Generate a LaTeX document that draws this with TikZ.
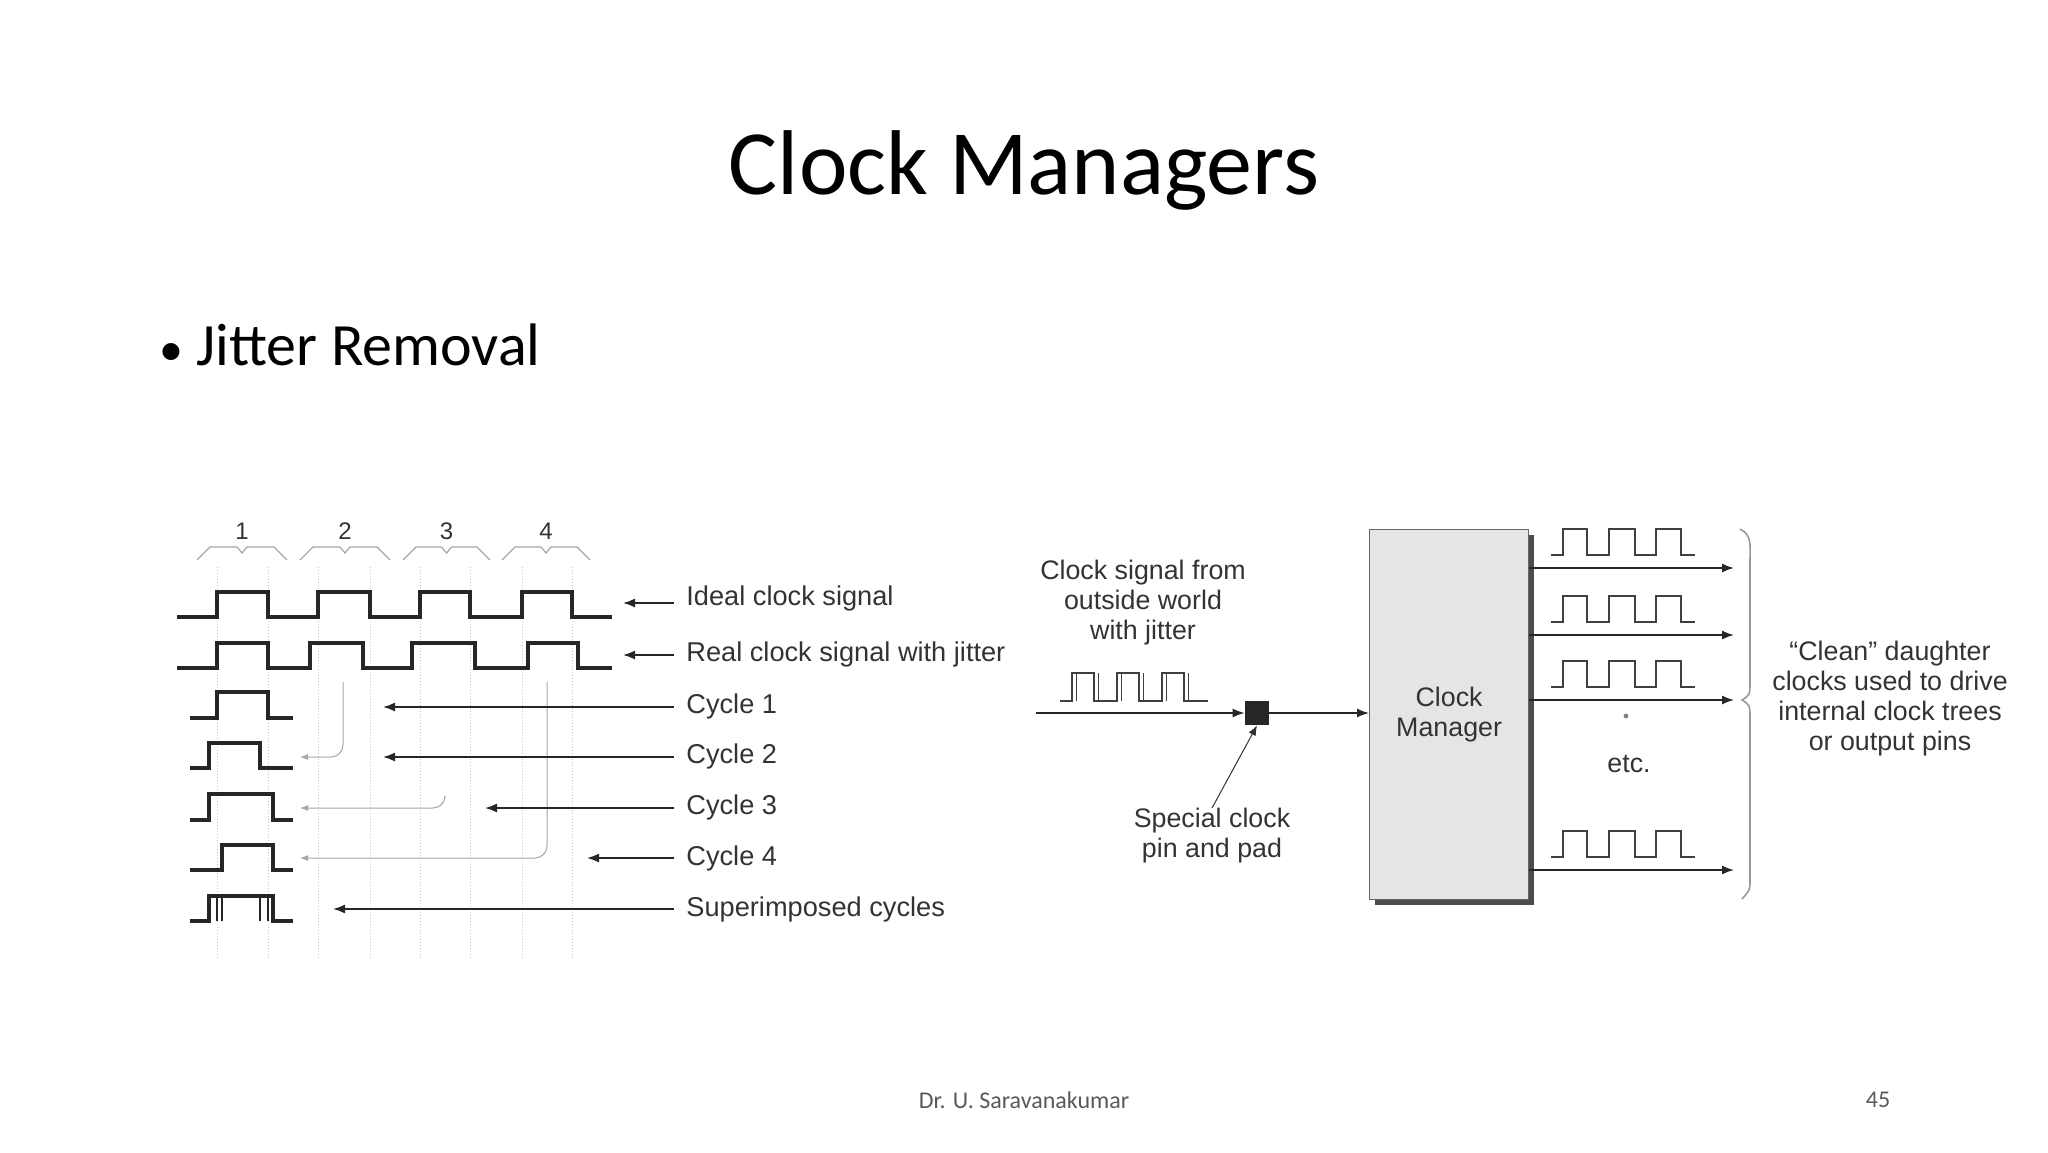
\documentclass[tikz,border=0pt]{standalone}
\usepackage{fontspec}
\setmainfont{Carlito}
\newfontfamily\arial{Liberation Sans}
\usetikzlibrary{arrows.meta}
\begin{document}
\begin{tikzpicture}[x=0.5pt,y=-0.5pt,
  wave/.style={line width=1.6pt,black!85},
  grid/.style={gray!45,densely dotted,line width=0.5pt},
  brc/.style={gray!70,line width=0.6pt},
  lbl/.style={font=\arial\fontsize{13.6}{15}\selectfont,text=black!80,anchor=west,inner sep=0},
  rlbl/.style={font=\arial\fontsize{13.4}{15}\selectfont,text=black!80,align=center,inner sep=0},
  blk/.style={-{Latex[length=6pt,width=4.5pt]},line width=0.8pt,black!85},
  gry/.style={-{Latex[length=4pt,width=3pt]},line width=0.5pt,gray!70,rounded corners=6pt},
  owave/.style={line width=0.9pt,black!75}]
\useasboundingbox (0,0) rectangle (2048,1152);
\node (title) at (1024,170) {\fontsize{46}{56}\selectfont Clock Managers};
\node[anchor=west] (bullet) at (152,345) {\fontsize{30}{36}\selectfont {\fontsize{24}{30}\selectfont •} Jitter Removal};
\node (foot) at (1024,1100) {\fontsize{12}{14}\selectfont\color{black!65} Dr. U. Saravanakumar};
\node (page) at (1878,1100) {\fontsize{12}{14}\selectfont\color{black!65} 45};

% grid lines
\foreach \x in {217,268,318,370,420,470,522,572} \draw[grid] (\x,567) -- (\x,960);
% braces and numbers
\foreach \a/\b/\n in {197/287/1,300/390/2,403/490/3,502/590/4}{
  \pgfmathsetmacro{\m}{(\a+\b)/2}
  \draw[brc] (\a,560) -- (\a+13,547) -- (\m-5,547) -- (\m,553) -- (\m+5,547) -- (\b-13,547) -- (\b,560);
  \node[font=\arial\fontsize{12}{14}\selectfont,text=black!80] (n\n) at (\m,531) {\n};
}
% waves
\draw[wave] (177,617) -- (217,617) -- (217,592) -- (268,592) -- (268,617) -- (318,617) -- (318,592) -- (370,592) -- (370,617) -- (420,617) -- (420,592) -- (470,592) -- (470,617) -- (522,617) -- (522,592) -- (572,592) -- (572,617) -- (612,617);
\draw[wave] (177,668) -- (217,668) -- (217,643) -- (268,643) -- (268,668) -- (310,668) -- (310,643) -- (363,643) -- (363,668) -- (412,668) -- (412,643) -- (475,643) -- (475,668) -- (528,668) -- (528,643) -- (578,643) -- (578,668) -- (612,668);
\draw[wave] (190,718) -- (217,718) -- (217,692) -- (268,692) -- (268,718) -- (293,718);
\draw[wave] (190,768) -- (209,768) -- (209,743) -- (260,743) -- (260,768) -- (293,768);
\draw[wave] (190,820) -- (209,820) -- (209,794) -- (273,794) -- (273,820) -- (293,820);
\draw[wave] (190,870) -- (222,870) -- (222,845) -- (273,845) -- (273,870) -- (293,870);
\draw[wave] (190,921) -- (209,921) -- (209,896) -- (273,896) -- (273,921) -- (293,921);
\draw[line width=1.2pt,black!85] (217,921) -- (217,896) (222,921) -- (222,896) (260,921) -- (260,896) (268,921) -- (268,896);
% gray arrows
\coordinate (g2) at (343,682); \coordinate (e2) at (300,757);
\coordinate (g3) at (445,797); \coordinate (e3) at (300,808);
\coordinate (g4) at (547,682); \coordinate (e4) at (300,858);
\draw[gry] (g2) -- (343,757) -- (e2);
\draw[gry] (g3) -- (445,808) -- (e3);
\draw[gry] (g4) -- (547,858) -- (e4);
% labels
\node[lbl] (l0) at (686,598) {Ideal clock signal};
\node[lbl] (l1) at (686,654) {Real clock signal with jitter};
\node[lbl] (l2) at (686,706) {Cycle 1};
\node[lbl] (l3) at (686,756) {Cycle 2};
\node[lbl] (l4) at (686,807) {Cycle 3};
\node[lbl] (l5) at (686,858) {Cycle 4};
\node[lbl] (l6) at (686,909) {Superimposed cycles};
\coordinate (t0) at (623,603); \coordinate (t1) at (623,655);
\coordinate (t2) at (383,707); \coordinate (t3) at (383,757);
\coordinate (t4) at (485,808); \coordinate (t5) at (587,858);
\coordinate (t6) at (333,909);
\foreach \i in {0,...,6} \draw[blk] ([xshift=-6pt]l\i.west |- t\i) -- (t\i);

% right diagram
\fill[black!70] (1375,535) rectangle (1534,905);
\node[draw=black!60,fill=black!10,line width=0.6pt,minimum width=79.5pt,minimum height=185pt,inner sep=0,anchor=north west] (cm) at (1369,529) {};
\node[rlbl] at (cm) {Clock\\Manager};
\node[rlbl,anchor=north] (insig) at (1143,560) {Clock signal from\\outside world\\with jitter};
\node[fill=black!85,minimum size=12pt,inner sep=0] (pad) at (1257,713) {};
\coordinate (in0) at (1036,713);
\draw[blk,line width=0.7pt] (in0) -- (pad.west);
\draw[blk,line width=0.7pt] (pad.east) -- (cm.west |- pad);
\draw[owave,line width=0.7pt] (1060,701) -- (1072,701) -- (1072,673) -- (1094,673) -- (1094,701) -- (1117,701) -- (1117,673) -- (1139,673) -- (1139,701) -- (1162,701) -- (1162,673) -- (1184,673) -- (1184,701) -- (1208,701);
\draw[owave,line width=0.5pt] (1076,701) -- (1076,673) (1098,673) -- (1098,701) (1121,701) -- (1121,673) (1143,673) -- (1143,701) (1166,701) -- (1166,673) (1188,673) -- (1188,701);
\node[rlbl,anchor=north] (spc) at (1212,808) {Special clock\\pin and pad};
\draw[-{Latex[length=5pt,width=4pt]},line width=0.5pt,black!80] (spc.north) -- (pad.south);
\foreach \y/\k in {568/a,635/b,700/c,870/d}{
  \coordinate (o\k) at (1734,\y);
  \draw[blk,line width=0.8pt] (cm.east |- o\k) -- (o\k);
  \draw[owave] (1551,\y-13) -- (1563,\y-13) -- (1563,\y-39) -- (1587,\y-39) -- (1587,\y-13) -- (1609,\y-13) -- (1609,\y-39) -- (1635,\y-39) -- (1635,\y-13) -- (1656,\y-13) -- (1656,\y-39) -- (1681,\y-39) -- (1681,\y-13) -- (1695,\y-13);
}
\fill[black!50] (1626,716) circle (1.2pt);
\node[rlbl] (etc) at (1629,764) {etc.};
\draw[brc,line width=0.8pt,gray!80] (1740,529) .. controls (1752,535) and (1750,545) .. (1750,560) -- (1750,680) .. controls (1750,695) .. (1742,700) .. controls (1750,705) .. (1750,720) -- (1750,880) .. controls (1750,890) .. (1742,899);
\node[rlbl] (clean) at (1890,699) {“Clean” daughter\\clocks used to drive\\internal clock trees\\or output pins};
\end{tikzpicture}
\end{document}
